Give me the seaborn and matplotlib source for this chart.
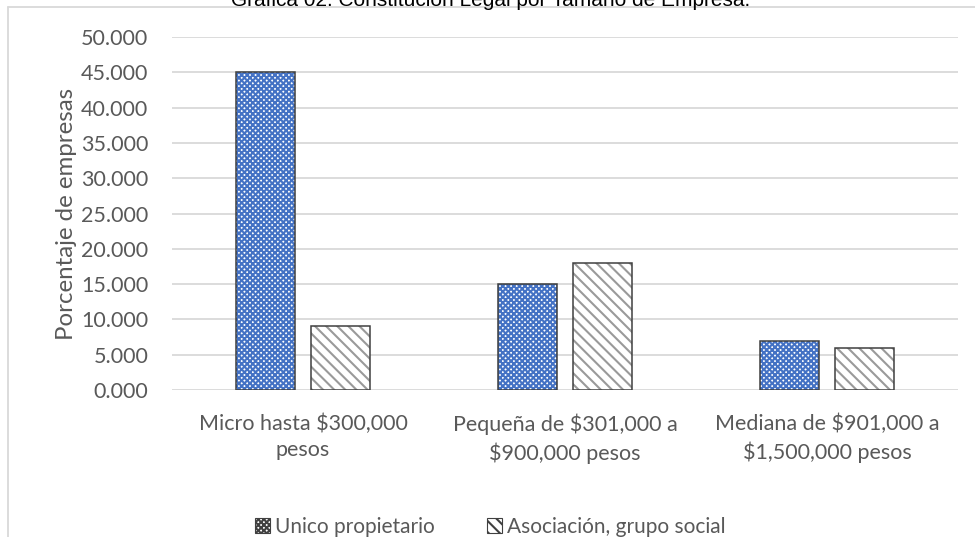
import numpy as np
import pandas as pd
import matplotlib
matplotlib.use("Agg")
import matplotlib.pyplot as plt
import matplotlib.patches as mpatches
from matplotlib.lines import Line2D
from matplotlib.ticker import FormatStrFormatter
import seaborn as sns

categories = ["Micro hasta $300,000\npesos",
              "Pequeña de $301,000 a\n$900,000 pesos",
              "Mediana de $901,000 a\n$1,500,000 pesos"]
series = ["Unico propietario", "Asociación, grupo social"]
unico = [45, 15, 7]
asociacion = [9, 18, 6]
title = "Gráfica 02. Constitución Legal por Tamaño de Empresa."

df = pd.DataFrame({
    "cat": categories * 2,
    "serie": [series[0]] * 3 + [series[1]] * 3,
    "val": unico + asociacion,
})

sns.set_style("white")
plt.rcParams["font.family"] = ["Lato", "DejaVu Sans"]
plt.rcParams["hatch.linewidth"] = 1.5

GRAY_TXT = "#595959"
GRID = "#D9D9D9"
HATCH_COL = {series[0]: "#4472C4", series[1]: "#9A9A9A"}
HATCH = {series[0]: "xxxxxx", series[1]: "\\\\\\"}

fig = plt.figure(figsize=(9.75, 5.37), dpi=100)
ax = fig.add_axes([172 / 975, 1 - 390 / 537, (958 - 172) / 975, (390 - 37) / 537])

sns.barplot(data=df, x="cat", y="val", hue="serie", order=categories,
            hue_order=series, width=0.573, gap=0.213, legend=False, ax=ax)

for cont, s in zip(ax.containers, series):
    for p in cont:
        p.set_facecolor("white")
        p.set_edgecolor(HATCH_COL[s])
        p.set_hatch(HATCH[s])
        p.set_linewidth(0)
        ax.add_patch(mpatches.Rectangle(p.get_xy(), p.get_width(), p.get_height(),
                                        fill=False, edgecolor="#404040", lw=1.1, zorder=3))

ax.set_xlim(-0.5, 2.5)
ax.set_ylim(0, 50)
ax.set_yticks(np.arange(0, 51, 5))
ax.yaxis.set_major_formatter(FormatStrFormatter("%.3f"))
ax.grid(axis="y", color=GRID, lw=1.3)
ax.set_axisbelow(True)
for sp in ax.spines.values():
    sp.set_visible(False)
ax.tick_params(axis="both", length=0, labelsize=15.5, colors=GRAY_TXT)
ax.tick_params(axis="y", pad=17)
ax.tick_params(axis="x", pad=17)
for lab in ax.get_xticklabels():
    lab.set_linespacing(1.4)
ax.set_xlabel("")
ax.set_ylabel("Porcentaje de empresas", fontsize=17.3, color=GRAY_TXT, labelpad=3)

handles = [mpatches.Patch(facecolor="white", edgecolor=HATCH_COL[s], hatch=HATCH[s],
                          lw=0) for s in series]
leg = fig.legend(handles, series, loc="center", bbox_to_anchor=(0.503, 1 - 527 / 537),
                 ncol=2, frameon=False, fontsize=15, handlelength=0.7, handleheight=0.7,
                 columnspacing=2.5, handletextpad=0.25)
for t in leg.get_texts():
    t.set_color(GRAY_TXT)
for h in leg.legend_handles:
    h.set_edgecolor("#404040")
    h.set_linewidth(0.8)

fig.text(0.503, 1 - 6 / 537, title, ha="center", va="baseline", fontsize=15,
         family="Liberation Sans", color="black")

# light frame of the original chart area
fig.add_artist(Line2D([8 / 975, 8 / 975], [0, 1 - 7 / 537], color=GRID, lw=1.3))
fig.add_artist(Line2D([8 / 975, 1], [1 - 7 / 537, 1 - 7 / 537], color=GRID, lw=1.3))

fig.savefig("out.png", dpi=100)
